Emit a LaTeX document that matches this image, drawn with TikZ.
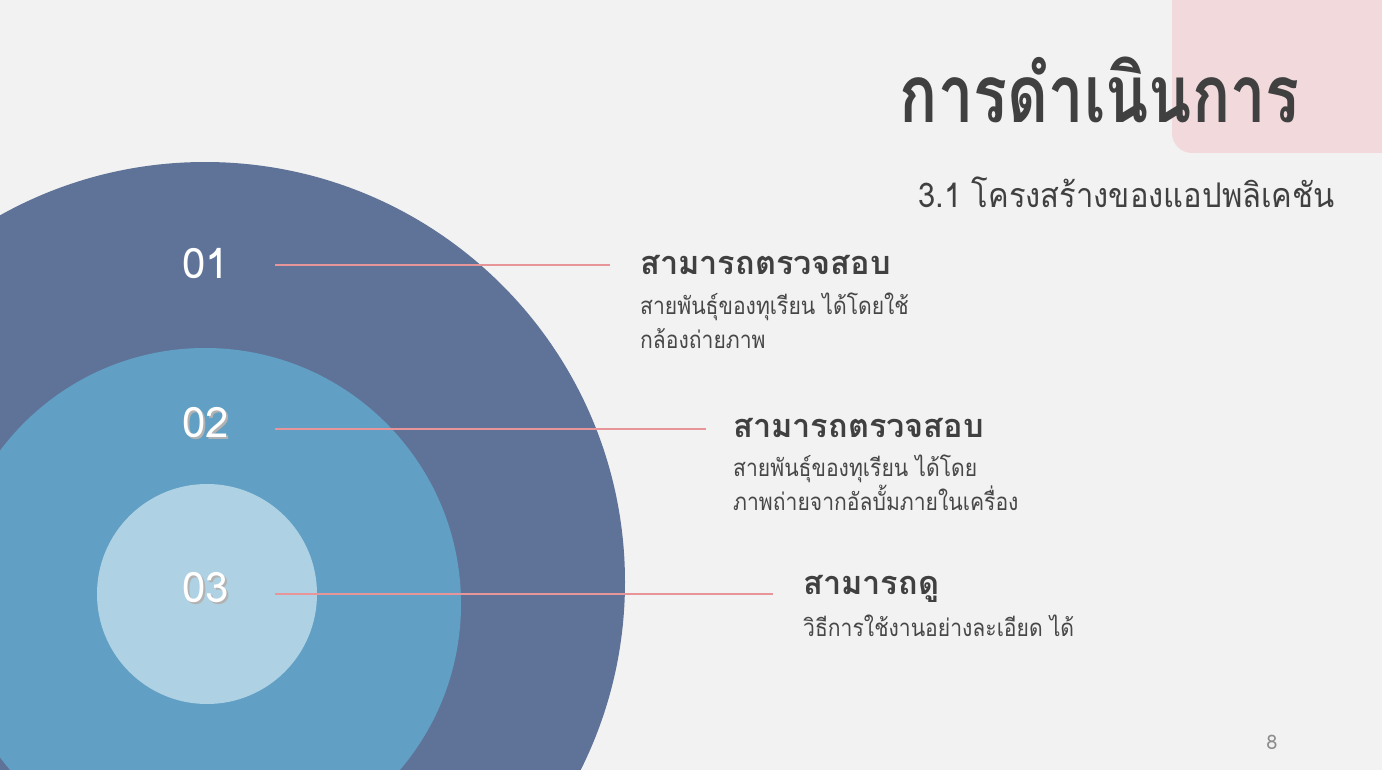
\documentclass[tikz,border=0pt]{standalone}
\usepackage{fontspec}
\newfontfamily\thaifont[Script=Thai]{Loma}
\newfontfamily\thaititle[Script=Thai, FakeStretch=0.79]{Loma}
\newfontfamily\thaisub[Script=Thai, FakeStretch=0.91]{Loma}
\newfontfamily\thaibody[Script=Thai, FakeStretch=0.88]{Loma}
\definecolor{bgc}{HTML}{F2F2F2}
\definecolor{pinkbox}{HTML}{F2D9DC}
\definecolor{outerc}{HTML}{5F7398}
\definecolor{midc}{HTML}{61A0C4}
\definecolor{innerc}{HTML}{AED2E4}
\definecolor{linec}{HTML}{E8959A}
\definecolor{txt}{HTML}{404040}
\definecolor{bodytxt}{HTML}{474747}
\definecolor{pgnum}{HTML}{8C8C8C}
\tikzset{
  num/.style={text=white, font=\thaifont\fontsize{42}{42}\selectfont, inner sep=0pt},
  numshadow/.style={text=black!30, font=\thaifont\fontsize{42}{42}\selectfont, inner sep=0pt},
  head/.style={text=txt, font=\thaifont\bfseries\fontsize{32.5}{32.5}\selectfont, anchor=west, inner sep=0pt},
  body/.style={text=bodytxt, font=\thaibody\fontsize{24}{34}\selectfont, anchor=north west, inner sep=0pt, align=left},
  conn/.style={draw=linec, line width=1.2pt}
}
\begin{document}
\begin{tikzpicture}[x=1pt,y=-1pt]
\clip (0,0) rectangle (1382,770);
\fill[bgc] (0,0) rectangle (1382,770);
\fill[pinkbox, rounded corners=20pt] (1172,-40) rectangle (1420,153);
% circles
\fill[outerc] (205,582) circle[radius=420];
\fill[midc] (205,604) circle[radius=256];
\fill[innerc] (207,594) circle[radius=110];
% title
\node[text=txt, font=\thaititle\bfseries\fontsize{80}{80}\selectfont, anchor=base east, inner sep=0pt] (title) at (1300,123) {การดำเนินการ};
\node[text=txt, font=\thaisub\fontsize{34}{34}\selectfont, anchor=base east, inner sep=0pt] (subtitle) at (1335,208) {3.1 โครงสร้างของแอปพลิเคชัน};
% numbers
\node[num] (n1) at (206,264) {01};
\node[numshadow] (n2s) at (208,425) {02};
\node[num] (n2) at (206,423) {02};
\node[numshadow] (n3s) at (208,590) {03};
\node[num] (n3) at (206,588) {03};
% connector end points
\coordinate (s1) at (275,265);
\coordinate (s2) at (275,429);
\coordinate (s3) at (275,594);
\coordinate (e1) at (610,265);
\coordinate (e2) at (706,429);
\coordinate (e3) at (773,594);
% texts
\node[head] (h1) at (640,265) {สามารถตรวจสอบ};
\node[body] (b1) at (640,293) {สายพันธุ์ของทุเรียน ได้โดยใช้\\กล้องถ่ายภาพ};
\node[head] (h2) at (733,428) {สามารถตรวจสอบ};
\node[body] (b2) at (733,455) {สายพันธุ์ของทุเรียน ได้โดย\\ภาพถ่ายจากอัลบั้มภายในเครื่อง};
\node[head] (h3) at (803,589) {สามารถดู};
\node[body] (b3) at (803,615) {วิธีการใช้งานอย่างละเอียด ได้};
\draw[conn] (s1) -- (e1);
\draw[conn] (s2) -- (e2);
\draw[conn] (s3) -- (e3);
\node[text=pgnum, font=\thaifont\fontsize{20}{20}\selectfont, inner sep=0pt] (pg) at (1272,742) {8};
\end{tikzpicture}
\end{document}
